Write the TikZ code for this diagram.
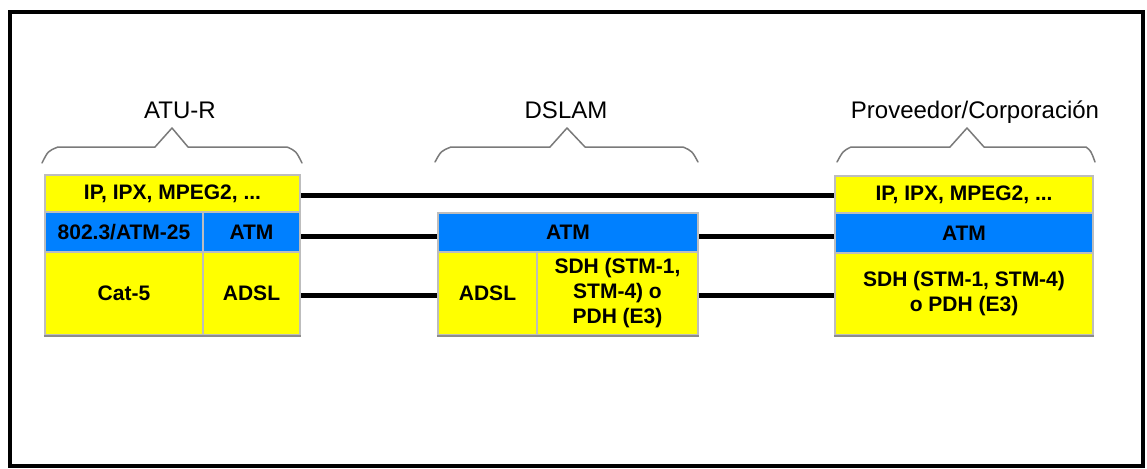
\documentclass[tikz,border=0pt]{standalone}
\usepackage{fontspec}
\setmainfont{Liberation Sans}
\definecolor{boxyellow}{HTML}{FFFF00}
\definecolor{boxblue}{HTML}{0080FF}
\definecolor{cellgray}{HTML}{BDBDBD}
\definecolor{bracegray}{HTML}{7A7A7A}
\definecolor{shadowgray}{HTML}{8C8C8C}
\newcommand{\boxfont}{\bfseries\fontsize{21}{25}\selectfont}
\newcommand{\headfont}{\fontsize{24}{28}\selectfont}
\begin{document}
\begin{tikzpicture}[x=1pt,y=-1pt,
  cell/.style={draw=cellgray, line width=2.5pt, inner sep=0pt, align=center, font=\boxfont},
  yel/.style={cell, fill=boxyellow},
  blu/.style={cell, fill=boxblue},
  link/.style={line width=5pt, draw=black},
  brace/.style={draw=bracegray, line width=1.5pt, line join=round, line cap=round},
  shadowline/.style={draw=shadowgray, line width=1.5pt},
  head/.style={font=\headfont, inner sep=0pt, anchor=base}]
\useasboundingbox (0,0) rectangle (1147,468);
\fill[white] (0,0) rectangle (1147,468);
\draw[line width=4pt] (10,12) rectangle (1143,466);

% ATU-R
\node[yel, minimum width=255pt, minimum height=37pt] (a1) at (172.5,193.5) {IP, IPX, MPEG2, ...};
\node[blu, minimum width=158pt, minimum height=40pt] (a2l) at (124,232) {802.3/ATM-25};
\node[blu, minimum width=97pt, minimum height=40pt] (a2r) at (251.5,232) {ATM};
\node[yel, minimum width=158pt, minimum height=83pt] (a3l) at (124,293.5) {Cat-5};
\node[yel, minimum width=97pt, minimum height=83pt] (a3r) at (251.5,293.5) {ADSL};

% DSLAM
\node[blu, minimum width=260pt, minimum height=39pt] (d1) at (568,232.5) {ATM};
\node[yel, minimum width=99pt, minimum height=83pt] (d2l) at (487.5,293.5) {ADSL};
\node[yel, minimum width=161pt, minimum height=83pt] (d2r) at (617.5,293.5) {SDH (STM-1,\\STM-4) o\\PDH (E3)};

% Proveedor
\node[yel, minimum width=258pt, minimum height=37pt] (p1) at (964,194.5) {IP, IPX, MPEG2, ...};
\node[blu, minimum width=258pt, minimum height=40pt] (p2) at (964,233) {ATM};
\node[yel, minimum width=258pt, minimum height=82pt] (p3) at (964,294) {SDH (STM-1, STM-4)\\o PDH (E3)};

% shadows
\draw[shadowline] ([yshift=0.2pt]a3l.south west) -- ([yshift=0.2pt]a3r.south east);
\draw[shadowline] ([yshift=0.2pt]d2l.south west) -- ([yshift=0.2pt]d2r.south east);
\draw[shadowline] ([yshift=0.2pt]p3.south west) -- ([yshift=0.2pt]p3.south east);

% connectors
\draw[link] ([yshift=-2pt]a1.east) -- ([yshift=-2pt]a1.east -| p1.west);
\draw[link] ([yshift=-4pt]a2r.east) -- ([yshift=-4pt]a2r.east -| d1.west);
\draw[link] ([yshift=-3.5pt]d1.east) -- ([yshift=-3.5pt]d1.east -| p2.west);
\draw[link] ([yshift=-1.5pt]a3r.east) -- ([yshift=-1.5pt]a3r.east -| d2l.west);
\draw[link] ([yshift=-1.5pt]d2r.east) -- ([yshift=-1.5pt]d2r.east -| p3.west);

% headers
\node[head] (hatu) at (180,118) {ATU-R};
\node[head] (hdslam) at (566,118) {DSLAM};
\node[head] (hprov) at (975,118) {Proveedor/Corporación};

% braces
\draw[brace] (42,163) .. controls (48,151) .. (58,147) -- (155,147) -- (172,128) -- (188,147) -- (287,147) .. controls (296,151) .. (302,163);
\draw[brace] (435,162) .. controls (441,151) .. (451,147) -- (550,147) -- (567,128) -- (585,147) -- (683,147) .. controls (692,151) .. (698,162);
\draw[brace] (837,162) .. controls (843,151) .. (851,147) -- (950,147) -- (967,128) -- (984,147) -- (1086,147) .. controls (1091,151) .. (1095,162);
\end{tikzpicture}
\end{document}
